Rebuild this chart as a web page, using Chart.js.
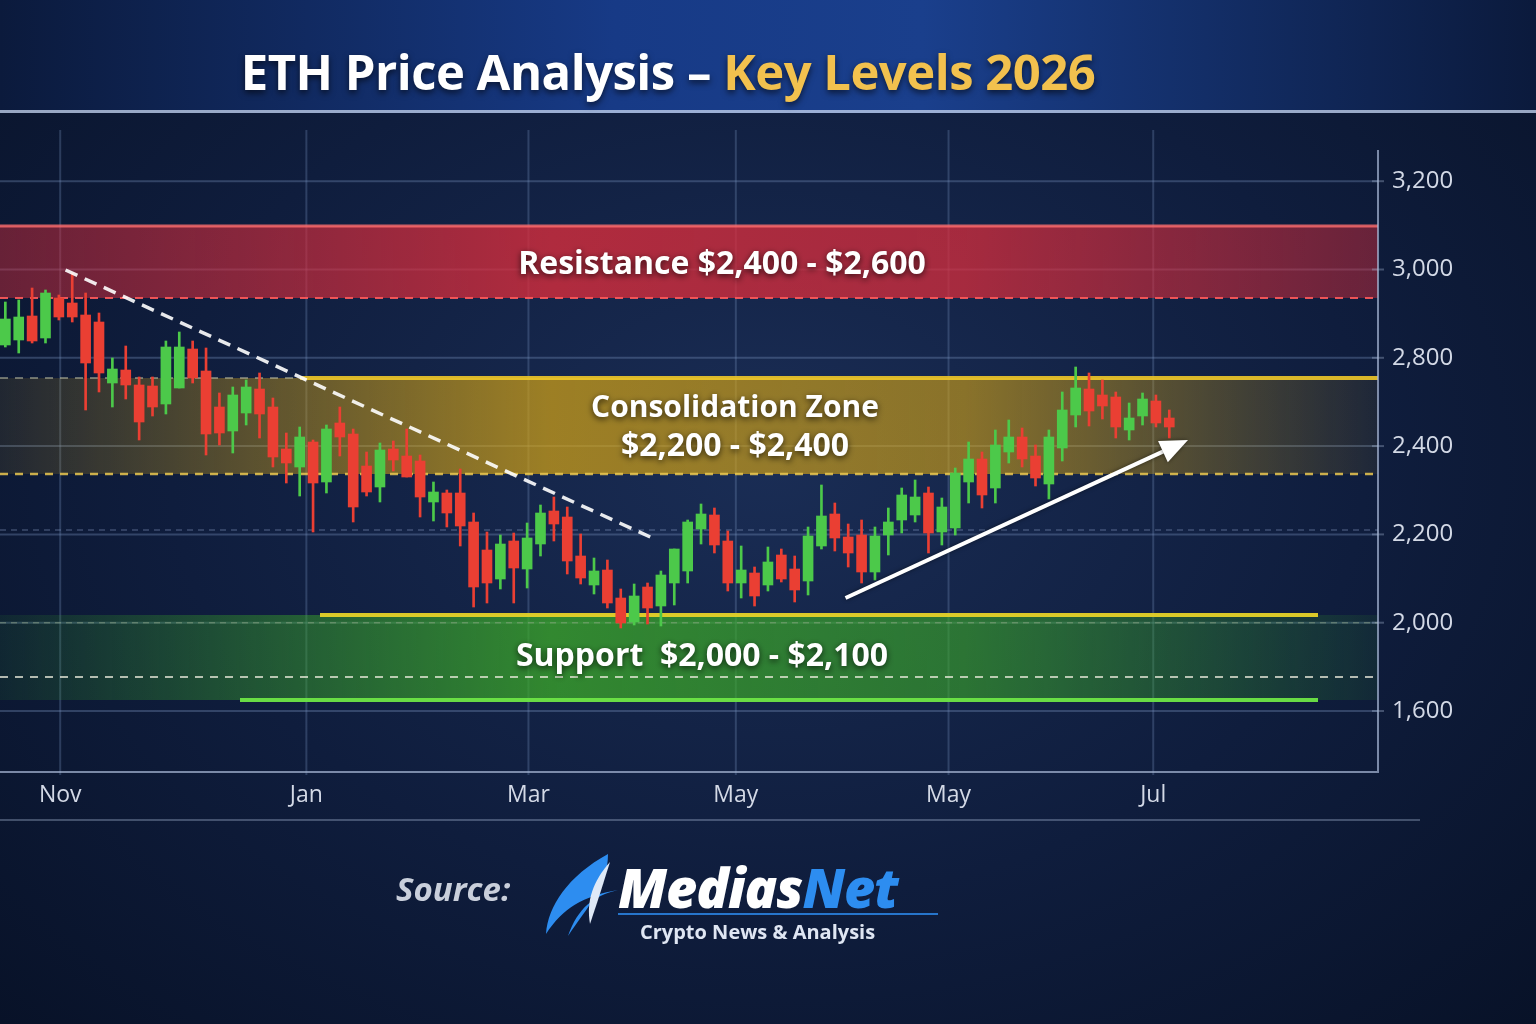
<!DOCTYPE html>
<html>
<head>
<meta charset="utf-8">
<script src="https://cdn.jsdelivr.net/npm/chart.js@4.4.1/dist/chart.umd.min.js"></script>
<style>
  html, body { margin: 0; padding: 0; }
  body {
    width: 1536px; height: 1024px; overflow: hidden; position: relative;
    background: radial-gradient(ellipse at 50% 45%, #1a2d55 0%, #0f1d3d 55%, #081228 100%);
    font-family: "Open Sans", "Noto Sans", sans-serif;
  }
  #band {
    position: absolute; left: 0; top: 0; width: 1536px; height: 110px;
    background: linear-gradient(90deg, #0b1a3c 0%, #173a86 40%, #1a3f8c 60%, #0b1a3c 100%);
    border-bottom: 3px solid rgba(200, 215, 240, 0.75);
  }
  #title {
    position: absolute; left: 0; width: 1536px; top: 38px; text-align: center;
    font-size: 49px; font-weight: 700; color: #fff; letter-spacing: -0.5px;
    text-shadow: 0 3px 6px rgba(0,0,0,0.6); padding-right: 200px; box-sizing: border-box;
  }
  #title span { color: #f2c14e; }
  #wrap { position: absolute; left: 0; top: 0; width: 1536px; height: 1024px; }
  #source {
    position: absolute; left: 396px; top: 866px; font-size: 33px; font-weight: 700;
    font-style: italic; color: #c9cfdb;
  }
  #logo { position: absolute; left: 538px; top: 846px; width: 420px; height: 110px; }
  #brand {
    position: absolute; left: 618px; top: 850px; font-size: 54px; font-weight: 800;
    font-style: italic; color: #fff; letter-spacing: -1px;
  }
  #brand span { color: #2d8df0; }
  #tag {
    position: absolute; left: 640px; top: 918px; font-size: 20px; font-weight: 700; color: #dfe6f3;
  }
</style>
</head>
<body>
<div id="band"></div>
<div id="title">ETH Price Analysis – <span>Key Levels 2026</span></div>
<div id="wrap"><canvas id="chart" width="1536" height="1024"></canvas></div>
<div id="source">Source:</div>
<svg id="logo" viewBox="0 0 420 110">
  <path d="M70 8 C30 30 10 60 8 88 C25 62 45 50 80 44 C55 50 40 62 30 90 C50 60 70 40 70 8 Z" fill="#2d8df0"/>
  <path d="M72 16 C55 35 48 55 52 78 C58 60 62 48 72 16 Z" fill="#dfe9f7"/>
  <line x1="80" y1="68" x2="400" y2="68" stroke="#2d8df0" stroke-width="2" opacity="0.8"/>
</svg>
<div id="brand">Medias<span>Net</span></div>
<div id="tag">Crypto News &amp; Analysis</div>
<script>
// Axis labels (evenly spaced on the picture)
const yTickLabels = ["1,600", "2,000", "2,200", "2,400", "2,800", "3,000", "3,200"]
const yStep = 88.3
const monthLabels = ["Nov", "Jan", "Mar", "May", "May", "Jul"]
const monthIndex = [4.1, 22.5, 39.1, 54.6, 70.5, 85.8]

// Candles in chart points (one label step = 88.3)
const opens = [366,371,395,373,413,408,396,389,328,341,326,325,307,323,362,340,304,280,298,322,304,262,244,269,229,288,277,245,224,262,255,250,209,218,218,
  189,161,132,170,142,167,200,194,155,126,141,113,89,124,105,128,140,182,196,170,128,138,126,156,142,130,165,197,174,176,139,176,
  191,196,218,179,183,229,252,223,259,274,255,227,263,296,322,316,314,281,295,310,293]
const highs = [409,411,423,421,416,438,418,398,353,365,334,334,370,379,370,363,318,324,331,338,313,278,284,271,286,304,282,259,268,270,282,256,229,221,242,
  198,179,176,178,188,206,214,204,177,153,151,122,127,128,140,162,191,207,203,180,165,144,164,162,155,184,226,208,187,191,184,203,
  223,231,224,213,243,269,259,281,291,283,266,281,319,344,338,331,319,308,318,316,301]
const lows = [364,358,368,368,391,389,301,319,304,312,271,295,297,323,328,256,266,258,286,273,244,228,215,179,218,255,189,215,209,240,234,194,190,184,165,
  104,108,122,108,123,155,170,137,127,117,103,83,86,87,85,106,128,167,158,120,113,105,120,129,109,116,162,160,144,128,131,156,
  178,189,158,166,176,208,203,208,248,244,225,212,250,284,285,292,273,271,286,284,273]
const closes = [392,394,370,418,394,394,348,338,342,326,289,304,364,364,333,277,278,316,324,297,254,248,274,228,282,274,204,219,261,251,234,214,219,198,185,
  124,128,167,143,173,198,187,150,133,140,108,88,115,103,136,162,189,197,166,128,141,115,149,132,121,175,195,173,158,139,175,189,
  216,214,178,204,238,252,216,266,274,252,233,274,301,323,300,305,284,293,312,288,284]

// Zones in chart points
const resistanceZone = [413, 485]
const consolidationZone = [237, 333]
const supportZone = [11, 96]
const trendDown = [[4.5, 441], [48.2, 174]]
const trendUp = [[62.8, 113], [88.4, 271]]

const up = "#4cc94a", down = "#ea3f33"
const bodies = [], wicks = [], colors = []
opens.forEach((o, i) => {
  bodies.push({ x: i, y: [o, closes[i]] })
  wicks.push({ x: i, y: [lows[i], highs[i]] })
  colors.push(closes[i] >= o ? up : down)
})

function hLine(ctx, area, y, color, width, dash, x0, x1) {
  ctx.save()
  ctx.strokeStyle = color
  ctx.lineWidth = width
  ctx.setLineDash(dash || [])
  ctx.beginPath()
  ctx.moveTo(x0 ?? area.left, y)
  ctx.lineTo(x1 ?? area.right, y)
  ctx.stroke()
  ctx.restore()
}

function band(ctx, area, yTop, yBot, rgb, fade) {
  const g = ctx.createLinearGradient(area.left, 0, area.right, 0)
  g.addColorStop(0, `rgba(${rgb},${fade[0]})`)
  g.addColorStop(0.4, `rgba(${rgb},${fade[1]})`)
  g.addColorStop(0.7, `rgba(${rgb},${fade[2]})`)
  g.addColorStop(1, `rgba(${rgb},${fade[3]})`)
  ctx.fillStyle = g
  ctx.fillRect(area.left, yTop, area.right - area.left, yBot - yTop)
}

function label(ctx, text, x, y, size) {
  ctx.save()
  ctx.font = `700 ${size}px "Open Sans", sans-serif`
  ctx.textAlign = "center"
  ctx.textBaseline = "middle"
  ctx.shadowColor = "rgba(0,0,0,0.7)"
  ctx.shadowBlur = 6
  ctx.shadowOffsetY = 2
  ctx.fillStyle = "#ffffff"
  ctx.fillText(text, x, y)
  ctx.restore()
}

const zonesPlugin = {
  id: "zones",
  beforeDatasetsDraw(chart) {
    const { ctx, chartArea: a, scales: { x, y } } = chart
    // grid
    yTickLabels.forEach((_, k) => hLine(ctx, a, y.getPixelForValue(k * yStep), "rgba(120,145,190,0.35)", 2))
    hLine(ctx, a, y.getPixelForValue(181), "rgba(150,170,210,0.35)", 1.5, [6, 5])
    monthIndex.forEach(m => {
      const px = x.getPixelForValue(m)
      ctx.save(); ctx.strokeStyle = "rgba(120,145,190,0.3)"; ctx.lineWidth = 2
      ctx.beginPath(); ctx.moveTo(px, a.top); ctx.lineTo(px, a.bottom); ctx.stroke(); ctx.restore()
    })
    // resistance
    let t = y.getPixelForValue(resistanceZone[1]), b = y.getPixelForValue(resistanceZone[0])
    band(ctx, a, t, b, "215,45,60", [0.45, 0.8, 0.75, 0.45])
    hLine(ctx, a, t, "rgba(255,110,110,0.8)", 3)
    hLine(ctx, a, b, "rgba(255,90,90,0.9)", 2, [8, 7])
    // consolidation
    t = y.getPixelForValue(consolidationZone[1]); b = y.getPixelForValue(consolidationZone[0])
    band(ctx, a, t, b, "215,165,20", [0.1, 0.7, 0.6, 0.08])
    hLine(ctx, a, t, "rgba(240,200,40,0.9)", 4, [], a.left + 300)
    hLine(ctx, a, t, "rgba(200,200,170,0.5)", 2, [8, 7], a.left, a.left + 300)
    hLine(ctx, a, b, "rgba(235,200,80,0.85)", 2.5, [8, 7])
    // support
    t = y.getPixelForValue(supportZone[1]); b = y.getPixelForValue(supportZone[0])
    band(ctx, a, t, b, "60,170,40", [0.1, 0.75, 0.6, 0.1])
    hLine(ctx, a, y.getPixelForValue(1 * yStep), "rgba(150,170,140,0.45)", 1.5, [6, 5])
    hLine(ctx, a, t, "rgba(230,210,40,0.95)", 4, [], a.left + 320, a.right - 60)
    hLine(ctx, a, y.getPixelForValue(34), "rgba(235,235,220,0.75)", 2, [8, 7])
    hLine(ctx, a, b, "rgba(110,230,70,0.95)", 4, [], a.left + 240, a.right - 60)
  },
  afterDatasetsDraw(chart) {
    const { ctx, chartArea: a, scales: { x, y } } = chart
    // trendline
    ctx.save()
    ctx.strokeStyle = "rgba(255,255,255,0.9)"; ctx.lineWidth = 3.5; ctx.setLineDash([13, 8])
    ctx.beginPath()
    ctx.moveTo(x.getPixelForValue(trendDown[0][0]), y.getPixelForValue(trendDown[0][1]))
    ctx.lineTo(x.getPixelForValue(trendDown[1][0]), y.getPixelForValue(trendDown[1][1]))
    ctx.stroke(); ctx.restore()
    // arrow
    const x0 = x.getPixelForValue(trendUp[0][0]), y0 = y.getPixelForValue(trendUp[0][1])
    const x1 = x.getPixelForValue(trendUp[1][0]), y1 = y.getPixelForValue(trendUp[1][1])
    const ang = Math.atan2(y1 - y0, x1 - x0)
    ctx.save()
    ctx.strokeStyle = "#fff"; ctx.fillStyle = "#fff"; ctx.lineWidth = 4
    ctx.shadowColor = "rgba(0,0,0,0.5)"; ctx.shadowBlur = 4
    ctx.beginPath(); ctx.moveTo(x0, y0); ctx.lineTo(x1 - 20 * Math.cos(ang), y1 - 20 * Math.sin(ang)); ctx.stroke()
    ctx.beginPath(); ctx.moveTo(x1, y1)
    ctx.lineTo(x1 - 30 * Math.cos(ang - 0.4), y1 - 30 * Math.sin(ang - 0.4))
    ctx.lineTo(x1 - 30 * Math.cos(ang + 0.4), y1 - 30 * Math.sin(ang + 0.4))
    ctx.closePath(); ctx.fill(); ctx.restore()
    // labels
    label(ctx, "Resistance $2,400 - $2,600", 722, 265, 32)
    label(ctx, "Consolidation Zone", 735, 408, 30)
    label(ctx, "$2,200 - $2,400", 735, 447, 32)
    label(ctx, "Support  $2,000 - $2,100", 702, 657, 32)
    // axes frame
    ctx.save()
    ctx.strokeStyle = "rgba(170,185,215,0.7)"; ctx.lineWidth = 2
    ctx.beginPath(); ctx.moveTo(a.right, a.top + 20); ctx.lineTo(a.right, a.bottom - 3); ctx.lineTo(a.left, a.bottom - 3); ctx.stroke()
    ctx.strokeStyle = "rgba(170,185,215,0.35)"
    ctx.beginPath(); ctx.moveTo(a.left, a.bottom + 45); ctx.lineTo(1420, a.bottom + 45); ctx.stroke()
    // tick labels
    ctx.fillStyle = "#d3d9e6"; ctx.font = '400 24px "Open Sans", sans-serif'
    ctx.textBaseline = "middle"; ctx.textAlign = "left"
    yTickLabels.forEach((l, k) => {
      const py = y.getPixelForValue(k * yStep)
      ctx.fillText(l, a.right + 14, py)
      ctx.beginPath(); ctx.moveTo(a.right - 6, py); ctx.lineTo(a.right + 6, py); ctx.stroke()
    })
    ctx.font = '400 23px "Open Sans", sans-serif'; ctx.textAlign = "center"
    monthLabels.forEach((l, k) => ctx.fillText(l, x.getPixelForValue(monthIndex[k]), a.bottom + 20))
    ctx.restore()
  }
}

new Chart(document.getElementById("chart"), {
  type: "bar",
  data: {
    datasets: [
      { data: wicks, backgroundColor: colors, barThickness: 2, grouped: false, order: 2 },
      { data: bodies, backgroundColor: colors, barThickness: 10, grouped: false, order: 1, borderSkipped: false },
    ],
  },
  options: {
    responsive: false,
    animation: false,
    layout: { padding: { left: 0, right: 158, top: 130, bottom: 249 } },
    plugins: { legend: { display: false }, tooltip: { enabled: false } },
    scales: {
      x: { type: "linear", offset: false, min: -0.4, max: 102.6, display: false, grid: { display: false } },
      y: { min: -64, max: 581, display: false, grid: { display: false } },
    },
  },
  plugins: [zonesPlugin],
})
</script>
</body>
</html>
